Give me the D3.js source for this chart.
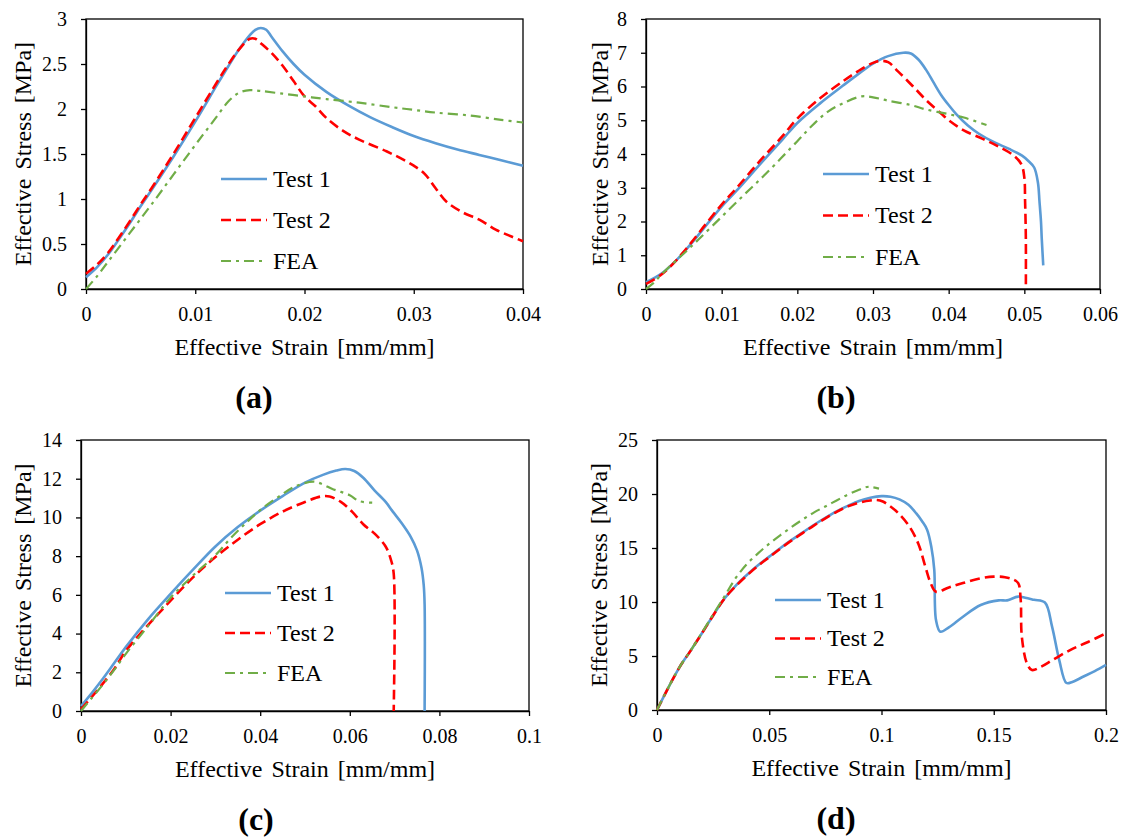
<!DOCTYPE html>
<html>
<head>
<meta charset="utf-8">
<script src="https://cdn.jsdelivr.net/npm/d3@7"></script>
</head>
<body style="margin:0;background:#fff">
<div id="chart"></div>
<script>
// ---- data: [strain, stress] ----
var aTest1 = [[0,0.13],[0.001,0.24],[0.002,0.38],[0.003,0.55],[0.004,0.73],[0.005,0.92],[0.006,1.1],[0.008,1.47],[0.01,1.86],[0.012,2.27],[0.013,2.47],[0.014,2.66],[0.015,2.82],[0.0155,2.88],[0.016,2.9],[0.0165,2.88],[0.017,2.8],[0.018,2.64],[0.019,2.5],[0.02,2.38],[0.022,2.19],[0.024,2.04],[0.026,1.91],[0.028,1.8],[0.03,1.7],[0.032,1.62],[0.034,1.55],[0.036,1.49],[0.038,1.43],[0.04,1.37]];
var aTest2 = [[0,0.17],[0.001,0.27],[0.002,0.4],[0.003,0.57],[0.004,0.75],[0.005,0.94],[0.006,1.12],[0.008,1.5],[0.01,1.9],[0.012,2.3],[0.013,2.49],[0.014,2.66],[0.015,2.78],[0.0155,2.78],[0.016,2.73],[0.017,2.62],[0.018,2.48],[0.019,2.31],[0.02,2.14],[0.021,2.03],[0.022,1.9],[0.0235,1.76],[0.025,1.66],[0.0275,1.53],[0.029,1.44],[0.03,1.37],[0.031,1.28],[0.032,1.12],[0.033,0.97],[0.0345,0.85],[0.036,0.77],[0.0375,0.66],[0.039,0.58],[0.04,0.53]];
var aFea = [[0,0],[0.001,0.14],[0.002,0.3],[0.004,0.62],[0.006,0.94],[0.008,1.27],[0.01,1.6],[0.011,1.76],[0.012,1.92],[0.013,2.08],[0.014,2.18],[0.015,2.21],[0.016,2.2],[0.018,2.17],[0.02,2.14],[0.022,2.11],[0.025,2.07],[0.028,2.02],[0.03,1.99],[0.032,1.96],[0.035,1.93],[0.038,1.88],[0.04,1.85]];

var bTest1 = [[0,0.2],[0.002,0.45],[0.004,0.85],[0.006,1.35],[0.008,1.9],[0.01,2.44],[0.012,2.92],[0.015,3.68],[0.018,4.42],[0.02,4.92],[0.023,5.5],[0.026,6.02],[0.028,6.36],[0.03,6.68],[0.032,6.9],[0.034,7.0],[0.035,6.98],[0.036,6.8],[0.037,6.5],[0.038,6.12],[0.039,5.75],[0.04,5.45],[0.041,5.18],[0.0425,4.85],[0.044,4.6],[0.046,4.35],[0.048,4.15],[0.0497,3.95],[0.0505,3.8],[0.0513,3.6],[0.0518,3.15],[0.052,2.6],[0.0522,2.0],[0.0523,1.5],[0.0525,0.7]];
var bTest2 = [[0,0.15],[0.002,0.42],[0.004,0.85],[0.006,1.38],[0.008,1.95],[0.01,2.5],[0.012,3.0],[0.015,3.78],[0.018,4.52],[0.02,5.05],[0.023,5.65],[0.026,6.15],[0.028,6.45],[0.03,6.7],[0.031,6.76],[0.032,6.72],[0.0333,6.45],[0.0353,6.0],[0.0371,5.58],[0.039,5.2],[0.04,5.0],[0.042,4.7],[0.0445,4.45],[0.0466,4.22],[0.0485,3.97],[0.0496,3.7],[0.05,3.3],[0.0501,2.6],[0.0502,1.5],[0.0502,0]];
var bFea = [[0,0],[0.001,0.18],[0.002,0.42],[0.003,0.64],[0.005,1.05],[0.007,1.48],[0.01,2.14],[0.013,2.8],[0.016,3.45],[0.02,4.38],[0.022,4.85],[0.024,5.25],[0.026,5.5],[0.0285,5.71],[0.03,5.68],[0.032,5.58],[0.035,5.45],[0.037,5.32],[0.04,5.18],[0.042,5.08],[0.045,4.86]];

var cTest1 = [[0,0.25],[0.0025,0.95],[0.005,1.7],[0.0075,2.5],[0.01,3.3],[0.015,4.75],[0.02,6.05],[0.025,7.3],[0.03,8.5],[0.035,9.5],[0.04,10.35],[0.045,11.1],[0.05,11.8],[0.054,12.2],[0.057,12.42],[0.059,12.5],[0.061,12.4],[0.063,12.05],[0.0655,11.4],[0.068,10.8],[0.0696,10.3],[0.0716,9.7],[0.0736,9.0],[0.075,8.3],[0.076,7.4],[0.0765,6.5],[0.0767,5.5],[0.0767,0]];
var cTest2 = [[0,0.1],[0.0025,0.75],[0.005,1.45],[0.0075,2.2],[0.01,3.1],[0.015,4.45],[0.02,5.7],[0.025,6.9],[0.03,7.95],[0.035,8.85],[0.04,9.65],[0.045,10.3],[0.05,10.8],[0.0535,11.08],[0.0555,11.08],[0.058,10.8],[0.0605,10.3],[0.063,9.65],[0.0656,9.15],[0.068,8.5],[0.0692,7.8],[0.0698,7.1],[0.0698,0]];
var cFea = [[0,0],[0.0025,0.7],[0.005,1.4],[0.0075,2.15],[0.01,2.95],[0.015,4.4],[0.02,5.85],[0.025,7.0],[0.03,8.05],[0.0335,8.95],[0.037,9.75],[0.04,10.38],[0.044,11.05],[0.048,11.62],[0.052,11.85],[0.054,11.7],[0.056,11.48],[0.06,11.15],[0.062,10.85],[0.065,10.76]];

var dTest1 = [[0,0],[0.005,2.05],[0.01,3.95],[0.015,5.5],[0.02,7.1],[0.025,8.75],[0.03,10.3],[0.035,11.5],[0.04,12.5],[0.045,13.4],[0.05,14.2],[0.055,15.0],[0.06,15.75],[0.065,16.45],[0.07,17.15],[0.075,17.8],[0.08,18.4],[0.085,18.9],[0.09,19.35],[0.095,19.65],[0.1,19.8],[0.104,19.75],[0.108,19.5],[0.112,19.0],[0.1155,18.2],[0.118,17.5],[0.1203,16.7],[0.1222,15.1],[0.1235,13.0],[0.1243,8.3],[0.1262,7.25],[0.13,7.65],[0.1363,8.64],[0.1442,9.72],[0.1522,10.15],[0.156,10.15],[0.1608,10.5],[0.164,10.4],[0.168,10.2],[0.1728,9.95],[0.176,7.7],[0.1792,4.6],[0.1824,2.5],[0.185,2.6],[0.19,3.1],[0.195,3.6],[0.2,4.17]];
var dTest2 = [[0,0],[0.005,2.05],[0.01,3.95],[0.015,5.5],[0.02,7.1],[0.025,8.75],[0.03,10.3],[0.035,11.45],[0.04,12.45],[0.045,13.35],[0.05,14.15],[0.055,14.95],[0.06,15.7],[0.065,16.4],[0.07,17.1],[0.075,17.75],[0.08,18.35],[0.085,18.85],[0.09,19.2],[0.095,19.4],[0.098,19.44],[0.1006,19.3],[0.104,18.85],[0.1076,18.2],[0.1124,17.0],[0.1164,15.4],[0.1195,13.3],[0.1219,11.75],[0.1243,10.95],[0.13,11.35],[0.1363,11.75],[0.1442,12.2],[0.15,12.35],[0.155,12.3],[0.1585,12.1],[0.1609,11.75],[0.162,10.2],[0.1625,6.8],[0.1648,4.3],[0.167,3.7],[0.171,4.0],[0.176,4.6],[0.184,5.55],[0.192,6.3],[0.2,7.1]];
var dFea = [[0,0],[0.005,2.05],[0.01,3.95],[0.015,5.5],[0.02,7.15],[0.025,8.85],[0.03,10.5],[0.035,12.2],[0.04,13.5],[0.045,14.5],[0.05,15.4],[0.055,16.2],[0.06,16.95],[0.065,17.65],[0.07,18.3],[0.075,18.85],[0.08,19.4],[0.085,19.95],[0.09,20.4],[0.0935,20.65],[0.096,20.62],[0.0989,20.5]];

// tick labels
var aXTicks = [0, 0.01, 0.02, 0.03, 0.04];
var aYTicks = [0, 0.5, 1, 1.5, 2, 2.5, 3];
var bXTicks = [0, 0.01, 0.02, 0.03, 0.04, 0.05, 0.06];
var bYTicks = [0, 1, 2, 3, 4, 5, 6, 7, 8];
var cXTicks = [0, 0.02, 0.04, 0.06, 0.08, 0.1];
var cYTicks = [0, 2, 4, 6, 8, 10, 12, 14];
var dXTicks = [0, 0.05, 0.1, 0.15, 0.2];
var dYTicks = [0, 5, 10, 15, 20, 25];

var seriesNames = ["Test 1", "Test 2", "FEA"];
var panelLabels = ["(a)", "(b)", "(c)", "(d)"];

var FONT = "Liberation Serif";

var svg = d3.select("#chart").append("svg")
    .attr("width", 1129)
    .attr("height", 840)
    .attr("font-family", FONT);

svg.append("rect").attr("width", 1129).attr("height", 840).attr("fill", "#fff");

// line styles: Test 1, Test 2, FEA
var styles = [
  {color: "#5B9BD5", width: 2.6, dash: null},
  {color: "#FF0000", width: 2.6, dash: "10,5"},
  {color: "#70AD47", width: 2.2, dash: "10,5,3,5"}
];

var panels = [
  {label: panelLabels[0], left: 86,  right: 523,  top: 19,  bottom: 289, xMax: 0.04, yMax: 3,
   xTicks: aXTicks, yTicks: aYTicks, series: [aTest1, aTest2, aFea],
   titleX: 31, legX: 221, legY: 179, legGap: 41, labelX: 254},
  {label: panelLabels[1], left: 646, right: 1100, top: 19,  bottom: 289, xMax: 0.06, yMax: 8,
   xTicks: bXTicks, yTicks: bYTicks, series: [bTest1, bTest2, bFea],
   titleX: 608, legX: 823, legY: 174, legGap: 41.5, labelX: 836},
  {label: panelLabels[2], left: 81,  right: 529,  top: 440, bottom: 711, xMax: 0.1, yMax: 14,
   xTicks: cXTicks, yTicks: cYTicks, series: [cTest1, cTest2, cFea],
   titleX: 31, legX: 225, legY: 593, legGap: 40, labelX: 256},
  {label: panelLabels[3], left: 657, right: 1106, top: 440, bottom: 710, xMax: 0.2, yMax: 25,
   xTicks: dXTicks, yTicks: dYTicks, series: [dTest1, dTest2, dFea],
   titleX: 607, legX: 775, legY: 600, legGap: 38.5, labelX: 836}
];

panels.forEach(drawPanel);

function drawPanel(p) {
  var x = d3.scaleLinear().domain([0, p.xMax]).range([p.left, p.right]);
  var y = d3.scaleLinear().domain([0, p.yMax]).range([p.bottom, p.top]);
  var g = svg.append("g");

  // frame
  g.append("rect")
      .attr("x", p.left).attr("y", p.top)
      .attr("width", p.right - p.left).attr("height", p.bottom - p.top)
      .attr("fill", "none").attr("stroke", "#000").attr("stroke-width", 1.3);

  var xAxis = g.append("g")
      .attr("transform", "translate(0," + p.bottom + ")")
      .call(d3.axisBottom(x).tickValues(p.xTicks).tickSize(5).tickSizeOuter(0)
          .tickPadding(13).tickFormat(function(d) { return String(d); }));
  var yAxis = g.append("g")
      .attr("transform", "translate(" + p.left + ",0)")
      .call(d3.axisLeft(y).tickValues(p.yTicks).tickSize(5).tickSizeOuter(0)
          .tickPadding(14).tickFormat(function(d) { return String(d); }));
  [xAxis, yAxis].forEach(function(a) {
    a.attr("font-family", FONT).attr("font-size", 20);
    a.select(".domain").attr("stroke", "#000").attr("stroke-width", 1.3);
    a.selectAll(".tick line").attr("stroke", "#000").attr("stroke-width", 1.3);
    a.selectAll(".tick text").attr("fill", "#000");
  });

  // axis titles
  g.append("text")
      .attr("x", (p.left + p.right) / 2)
      .attr("y", p.bottom + 66)
      .attr("text-anchor", "middle")
      .attr("font-family", FONT)
      .attr("font-size", 24)
      .attr("word-spacing", 3)
      .text("Effective Strain [mm/mm]");
  g.append("text")
      .attr("transform", "translate(" + p.titleX + "," + ((p.top + p.bottom) / 2) + ") rotate(-90)")
      .attr("text-anchor", "middle")
      .attr("font-family", FONT)
      .attr("font-size", 24)
      .attr("word-spacing", 3)
      .text("Effective Stress [MPa]");

  // curves
  var line = d3.line()
      .x(function(d) { return x(d[0]); })
      .y(function(d) { return y(d[1]); })
      .curve(d3.curveCatmullRom.alpha(0.5));

  p.series.forEach(function(s, i) {
    g.append("path")
        .datum(s)
        .attr("d", line)
        .attr("fill", "none")
        .attr("stroke", styles[i].color)
        .attr("stroke-width", styles[i].width)
        .attr("stroke-dasharray", styles[i].dash)
        .attr("stroke-linejoin", "round");
  });

  // legend
  seriesNames.forEach(function(name, i) {
    var ly = p.legY + i * p.legGap;
    g.append("line")
        .attr("x1", p.legX).attr("x2", p.legX + 46)
        .attr("y1", ly).attr("y2", ly)
        .attr("stroke", styles[i].color)
        .attr("stroke-width", styles[i].width)
        .attr("stroke-dasharray", styles[i].dash);
    g.append("text")
        .attr("x", p.legX + 52)
        .attr("y", ly)
        .attr("dy", "0.33em")
        .attr("font-family", FONT)
        .attr("font-size", 24)
        .text(name);
  });

  // panel label
  g.append("text")
      .attr("x", p.labelX)
      .attr("y", p.bottom + 119)
      .attr("text-anchor", "middle")
      .attr("font-family", FONT)
      .attr("font-size", 32)
      .attr("font-weight", "bold")
      .text(p.label);
}
</script>
</body>
</html>
